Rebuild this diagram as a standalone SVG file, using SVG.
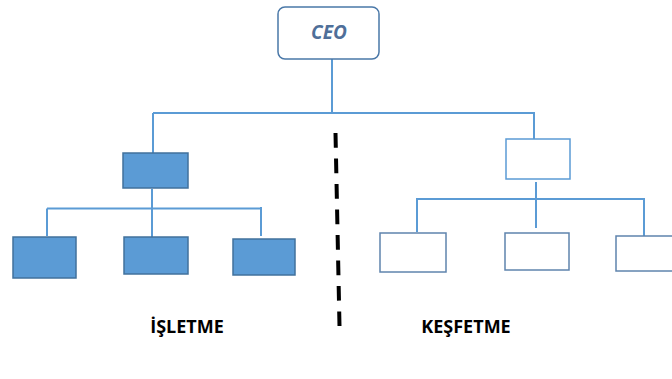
<svg xmlns="http://www.w3.org/2000/svg" width="672" height="379" viewBox="0 0 672 379">
<style>
.conn{stroke:#5b9bd5;stroke-width:2;fill:none}
.filled{fill:#5b9bd5;stroke:#41719c;stroke-width:1.5}
.empty{fill:#ffffff;stroke:#5b9bd5;stroke-width:1.5}
.empty2{fill:#ffffff;stroke:#5f84ad;stroke-width:1.5}
.lbl{font-family:"Open Sans","Liberation Sans",sans-serif;font-weight:bold;font-size:18px;fill:#000;text-anchor:middle}
</style>
<rect width="672" height="379" fill="#ffffff"/>
<g id="connectors">
<path class="conn" d="M332 59V113M153 113H535M153 113V153M534 113V139"/>
<path class="conn" d="M152 189V208M47 208.5H261M47 208.5V236M152 208V237M261 207V236"/>
<path class="conn" d="M536 182V228M416 199H644M417 199V232M644 198V236"/>
<line x1="335.5" y1="133" x2="339.5" y2="326" stroke="#000" stroke-width="4" stroke-dasharray="14.7 10.8"/>
</g>
<g id="ceo">
<rect x="278" y="7" width="101" height="52" rx="7" fill="#ffffff" stroke="#4a78a8" stroke-width="1.5"/>
<text x="329" y="39" font-family="'Open Sans','Liberation Sans',sans-serif" font-weight="bold" font-style="italic" font-size="19" fill="#4f6f99" text-anchor="middle">CEO</text>
</g>
<g id="isletme-head"><rect class="filled" x="123" y="153" width="65" height="35"/></g>
<g id="isletme-1"><rect class="filled" x="13" y="237" width="63" height="41"/></g>
<g id="isletme-2"><rect class="filled" x="124" y="237" width="64" height="37"/></g>
<g id="isletme-3"><rect class="filled" x="233" y="239" width="62" height="36"/></g>
<g id="kesfetme-head"><rect class="empty" x="506" y="139" width="64" height="40"/></g>
<g id="kesfetme-1"><rect class="empty2" x="380" y="233" width="66" height="39"/></g>
<g id="kesfetme-2"><rect class="empty2" x="505" y="233" width="64" height="37"/></g>
<g id="kesfetme-3"><rect class="empty2" x="616" y="236" width="60" height="35"/></g>
<g id="labels">
<text class="lbl" x="187" y="333">İŞLETME</text>
<text class="lbl" x="466" y="333">KEŞFETME</text>
</g>
</svg>
